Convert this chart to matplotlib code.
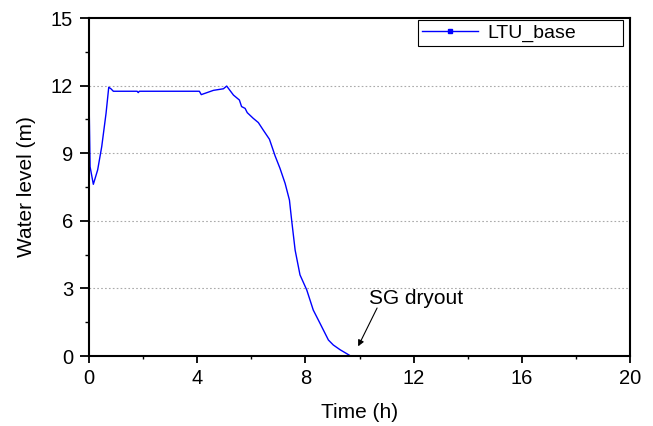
import numpy as np
import matplotlib.pyplot as plt
from matplotlib.ticker import MultipleLocator

# LTU_base water level
time_h = [0.0, 0.04, 0.16, 0.32, 0.47, 0.63, 0.73, 0.81, 0.90, 1.78, 1.82, 1.86,
          4.08, 4.15, 4.60, 4.97, 5.09, 5.34, 5.56, 5.64, 5.77, 5.85, 6.07,
          6.26, 6.44, 6.67, 6.88, 7.06, 7.25, 7.41, 7.49, 7.62, 7.80,
          8.05, 8.29, 8.54, 8.85, 9.03, 9.28, 9.59, 9.67, 20.0]
level_m = [11.55, 8.4, 7.62, 8.26, 9.29, 10.77, 11.93, 11.86, 11.75, 11.75, 11.69, 11.75,
           11.75, 11.60, 11.79, 11.86, 11.98, 11.58, 11.36, 11.07, 10.99, 10.80, 10.55,
           10.36, 10.03, 9.62, 8.88, 8.33, 7.66, 6.92, 6.04, 4.70, 3.60,
           2.93, 2.04, 1.45, 0.71, 0.49, 0.28, 0.06, 0.0, 0.0]

plt.rcParams['font.family'] = ['Liberation Sans', 'DejaVu Sans']

fig = plt.figure(figsize=(6.53, 4.26), dpi=100)
ax = fig.add_axes([0.1363, 0.1643, 0.8285, 0.7934])

ax.plot(time_h, level_m, color="#0000ff", linewidth=1.0)

ax.set_xlim(0, 20)
ax.set_ylim(0, 15)
ax.xaxis.set_major_locator(MultipleLocator(4))
ax.xaxis.set_minor_locator(MultipleLocator(2))
ax.yaxis.set_major_locator(MultipleLocator(3))
ax.yaxis.set_minor_locator(MultipleLocator(1.5))
ax.tick_params(axis="x", which="major", direction="out", length=4.8, width=1.3, pad=4.5, labelsize=14.5)
ax.tick_params(axis="x", which="minor", direction="out", length=2.4, width=1.0)
ax.tick_params(axis="y", which="major", direction="out", length=6.5, width=1.3, pad=5, labelsize=14.5)
ax.tick_params(axis="y", which="minor", direction="out", length=3, width=1.0)
for s in ax.spines.values():
    s.set_linewidth(1.5)

for yv in [3, 6, 9, 12]:
    ax.axhline(yv, color="#aaaaaa", linestyle=(0, (1.5, 2)), linewidth=0.8, zorder=0)

ax.set_xlabel("Time (h)", fontsize=15, labelpad=11)
ax.set_ylabel("Water level (m)", fontsize=15, labelpad=11)

# legend handle carries a small square marker in the middle
h, = ax.plot([], [], color="#0000ff", linewidth=1.0, marker="s", markersize=3)
leg = ax.legend([h], ["LTU_base"], loc="upper right", fontsize=14, frameon=True,
                fancybox=False, edgecolor="black", framealpha=1, borderpad=0.2,
                handlelength=2.9, handletextpad=0.45, numpoints=1, mode="expand",
                bbox_to_anchor=(0.608, 0.5, 0.379, 0.494), borderaxespad=0)
leg.get_frame().set_linewidth(0.8)

ax.annotate("", xy=(9.95, 0.43), xytext=(10.65, 2.13),
            arrowprops=dict(arrowstyle="-|>", color="black", lw=0.8,
                            mutation_scale=9, shrinkA=0, shrinkB=0))
ax.text(10.36, 2.32, "SG dryout", fontsize=15, va="baseline", ha="left")

fig.savefig("out.png", dpi=100)
